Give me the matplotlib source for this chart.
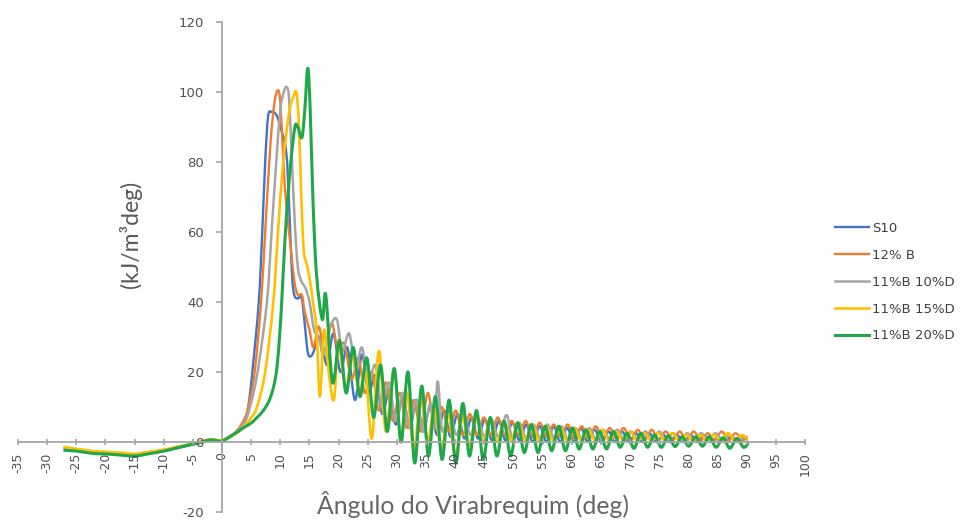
import numpy as np
import matplotlib
matplotlib.use("Agg")
import matplotlib.pyplot as plt
from matplotlib.path import Path
from matplotlib.patches import PathPatch
from matplotlib.lines import Line2D

plt.rcParams["font.family"] = ["Lato", "DejaVu Sans"]
plt.rcParams["axes.unicode_minus"] = False

# Heat release rate (kJ/m^3 deg) vs crank angle (deg)
s10_deg = [-27, -25, -22, -20, -17, -15, -13, -10, -8, -6, -4, -2, 0, 2,
           3, 4, 4.5, 5.2, 6.3, 6.9, 7.4, 7.9, 8.5, 9.3, 10.0, 11.0, 11.5, 12.0, 12.4,
           13.0, 13.4, 13.8, 14.4, 14.8, 15.5,
           16.8, 18.0, 19.1, 20.3, 21.5, 22.8, 24.0, 25.1, 26.3, 27.5, 28.7, 29.8, 31.0,
           32.2, 33.4, 34.5, 35.7, 36.9, 38.1, 39.2, 40.4, 41.6, 42.8, 43.9, 45.1, 46.3,
           47.5, 48.6, 49.8, 51.0, 52.2, 53.3, 54.5, 55.7, 56.9, 58.0, 59.2, 60.4, 61.6,
           62.7, 63.9, 65.1, 66.3, 67.4, 68.6, 69.8, 71.0, 72.1, 73.3, 74.5, 75.7, 76.8,
           78.0, 79.2, 80.4, 81.5, 82.7, 83.9, 85.1, 86.2, 87.4, 88.6, 89.5]
s10_val = [-1.8, -2.4, -3.0, -3.2, -3.6, -4.2, -3.4, -2.6, -1.8, -1.1, -0.2, 0.5, 0.5, 2.3,
           4.0, 7.0, 10, 20, 40, 60, 80, 93, 94.3, 93.5, 90, 83, 68, 48, 42,
           41, 41.5, 40, 30, 25, 25,
           30, 22, 31, 20, 27, 12, 25, 14, 19, 8, 15, 5, 13,
           4, 12, 3, 10, 2, 9, 1.5, 8, 1, 7, 1, 6.5, 0.5,
           6, 0.5, 5.5, 0.5, 5, 0, 4.5, 0, 4.5, 0, 4, 0, 4,
           0, 3.5, 0, 3, 0, 3, 0, 2.5, 0, 2.5, 0, 2, 0,
           2, 0, 2, 0, 1.8, 0, 1.5, 0, 1.5, 0, 0.8]

b12_deg = [-27, -25, -22, -20, -17, -15, -13, -10, -8, -6, -4, -2, 0, 2,
           3, 4, 4.5, 5.6, 6.7, 7.4, 8.3, 9.0, 9.6, 10.0, 10.5, 11.0, 11.7, 12.4, 13.0,
           13.7, 14.2, 15.0, 15.7,
           16.6, 17.6, 18.8, 19.8, 21.0, 22.2, 23.4, 24.5, 25.7, 26.9, 28.1, 29.3, 30.5,
           31.7, 32.9, 34.1, 35.3, 36.5, 37.7, 38.9, 40.1, 41.3, 42.5, 43.7, 44.9, 46.1,
           47.3, 48.5, 49.7, 50.9, 52.1, 53.3, 54.5, 55.7, 56.9, 58.1, 59.3, 60.5, 61.7,
           62.9, 64.1, 65.3, 66.5, 67.7, 68.9, 70.1, 71.3, 72.5, 73.7, 74.9, 76.1, 77.3,
           78.5, 79.7, 80.9, 82.1, 83.3, 84.5, 85.7, 86.9, 88.1, 89.3, 90.0]
b12_val = [-1.6, -2.2, -2.8, -3.0, -3.4, -3.8, -3.2, -2.4, -1.6, -1.0, -0.1, 0.6, 0.6, 2.4,
           4.2, 7, 10, 20, 40, 60, 85, 97, 100.5, 97, 81, 68, 57, 46, 42,
           42, 37, 32, 27,
           33, 26, 34, 27, 28, 18, 24, 14, 20, 9, 17, 6, 14,
           4, 12, 3, 14, 4, 10, 3, 9, 2, 8, 2, 7, 2,
           7, 2, 6, 2, 6, 1.5, 5.5, 1.5, 5, 1.5, 5, 1, 4.5,
           1, 4.5, 1, 4, 1, 4, 0.5, 3.5, 0.5, 3.5, 0.5, 3, 0.5,
           3, 0.5, 3, 0.5, 2.5, 0.5, 3, 0.5, 2.5, 0.5, 1.5]

b11d10_deg = [-27, -25, -22, -20, -17, -15, -13, -10, -8, -6, -4, -2, 0, 2,
              3, 4, 4.8, 6.1, 7.7, 8.5, 9.3, 10.0, 10.6, 11.1, 11.5, 12.0, 12.5, 13.0,
              13.6, 14.3, 15.0, 15.8,
              16.6, 17.4, 18.6, 19.7, 20.6, 21.8, 22.9, 24.0, 25.1, 26.3, 27.4, 28.6, 29.8,
              31.0, 32.1, 33.3, 34.5, 35.7, 36.4, 37.0, 37.8, 39.0, 40.2, 41.4, 42.6, 43.8,
              45.0, 46.2, 47.4, 48.8, 49.8, 51.0, 52.2, 53.4, 54.6, 55.8, 57.0, 58.2, 59.4,
              60.6, 61.8, 63.0, 64.2, 65.4, 66.6, 67.8, 69.0, 70.2, 71.4, 72.6, 73.8, 75.0,
              76.2, 77.4, 78.6, 79.8, 81.0, 82.2, 83.4, 84.6, 85.8, 87.0, 88.2, 89.4]
b11d10_val = [-1.5, -2.0, -2.7, -2.9, -3.3, -3.6, -3.0, -2.3, -1.5, -0.9, 0.0, 0.6, 0.5, 2.2,
              3.8, 6, 10, 20, 40, 60, 80, 95, 100, 101.4, 98, 80, 62, 50,
              46, 44, 40, 32,
              30, 25, 33, 35, 26, 31, 21, 27, 17, 22, 10, 17, 6,
              14, 4, 12, 3, 11, 4, 17.3, 3, 9, 2, 8, 2, 7,
              1.5, 6.5, 1.5, 7.7, 1, 5.5, 1, 5, 1, 5, 1, 4.5, 0.5,
              4, 0.5, 4, 0.5, 3.5, 0.5, 3.5, 0.5, 3, 0.5, 3, 0.5, 3,
              0.5, 2.5, 0.5, 2.5, 0.5, 2.5, 0.5, 2.5, 0.5, 2, 0.5, 1.5]

b11d15_deg = [-27, -25, -22, -20, -17, -15, -13, -10, -8, -6, -4, -2, 0, 2,
              3, 4, 5, 6, 7.4, 8.8, 9.6, 10.5, 11.5, 12.3, 12.8, 13.2, 13.6, 14.0,
              14.5, 15.0, 15.6, 16.2,
              16.8, 17.5, 18.3, 19.2, 20.0, 21.2, 22.4, 23.5, 24.6, 25.7, 26.9, 28.1, 29.5,
              30.7, 31.7, 32.9, 34.1, 35.3, 36.4, 37.6, 38.8, 40.0, 41.2, 42.4, 43.6, 44.8,
              46.0, 47.2, 48.4, 49.6, 50.8, 52.0, 53.2, 54.4, 55.6, 56.8, 58.0, 59.2, 60.4,
              61.6, 62.8, 64.0, 65.2, 66.4, 67.6, 68.8, 70.0, 71.2, 72.4, 73.6, 74.8, 76.0,
              77.2, 78.4, 79.6, 80.8, 82.0, 83.2, 84.4, 85.6, 86.8, 88.0, 89.2, 90.0]
b11d15_val = [-1.4, -2.0, -2.6, -2.8, -3.1, -3.4, -2.9, -2.2, -1.5, -0.8, 0.1, 0.7, 0.6, 2.0,
              3.2, 4.8, 7, 10, 20, 40, 60, 80, 94, 99, 99.5, 90, 70, 55,
              51, 47, 40, 32,
              13, 32, 20, 12, 28, 15, 25, 14, 20, 1, 26, 3, 21,
              0, 14, -2, 12, 0, 10, -2, 8, -4, 7, -1, 7, 0,
              6, 0, 6, 0.5, 5.5, 0.5, 5, 0.5, 4.5, 0.5, 4, 0.5, 4,
              0.5, 3.5, 0.5, 3.5, 0.5, 3, 0.5, 3, 0.5, 2.5, 0.5, 2.5, 0.5,
              2.5, 0.5, 2, 0.5, 2, 0.5, 2, 0.5, 2.5, 0.5, 2, 1]

b11d20_deg = [-27, -25, -22, -20, -17, -15, -13, -10, -8, -6, -4, -2, 0, 2,
              3, 4, 5, 6, 7, 8.0, 8.8, 9.4, 9.9, 10.3, 10.8, 11.3, 11.8, 12.5, 13.0, 13.7,
              14.2, 14.7, 15.1, 15.6, 16.2, 17.2, 17.8,
              18.95, 20.15, 21.3, 22.5, 23.65, 24.85, 26.0, 27.2, 28.35, 29.55, 30.7, 31.9,
              33.05, 34.25, 35.4, 36.6, 37.75, 38.95, 40.1, 41.3, 42.45, 43.65, 44.8, 46.0,
              47.15, 48.35, 49.5, 50.7, 51.85, 53.05, 54.2, 55.4, 56.55, 57.75, 58.9, 60.1,
              61.25, 62.45, 63.6, 64.8, 65.95, 67.15, 68.3, 69.5, 70.65, 71.85, 73.0, 74.2,
              75.35, 76.55, 77.7, 78.9, 80.05, 81.25, 82.4, 83.6, 84.75, 85.95, 87.1, 88.3,
              89.45, 90.2]
b11d20_val = [-2.4, -2.6, -3.3, -3.4, -3.8, -4.0, -3.5, -2.6, -1.8, -1.0, -0.3, 0.6, 0.3, 2.2,
              3.3, 4.4, 5.4, 7.0, 8.8, 11.5, 15.5, 21, 31, 42, 58, 70, 80, 90, 90, 87,
              95, 106.8, 96, 69, 48, 35, 42,
              17, 29, 14, 27, 13, 24, 7, 22, 3, 21, 0, 20,
              -6, 16, -4, 13, -5, 12, -6, 11, -4, 9, -5, 7,
              -4, 6, -4, 5.5, -3, 5, -3, 4.5, -2.5, 4.5, -2.5, 4,
              -2, 3.5, -2, 3, -2, 3, -1.5, 2.5, -1.8, 2.5, -1.5, 2,
              -1.5, 1.8, -1.3, 1.5, -1.2, 1.5, -1.2, 1.5, -1.5, 1.2, -1.8, 1.0,
              -1.5, -0.5]

series_labels = ["S10", "12% B", "11%B 10%D", "11%B 15%D", "11%B 20%D"]
series_colors = ["#4472C4", "#ED7D31", "#A5A5A5", "#FFC000", "#1FA84A"]
series_widths = [1.7, 1.7, 1.8, 1.9, 2.2]
series_data = [(s10_deg, s10_val), (b12_deg, b12_val), (b11d10_deg, b11d10_val),
               (b11d15_deg, b11d15_val), (b11d20_deg, b11d20_val)]

x_ticks = list(range(-35, 101, 5))
y_ticks = list(range(-20, 121, 20))


def smoothed_path(xs, ys):
    """Bezier path passing through every point (Catmull-Rom style smoothed line)."""
    pts = np.column_stack([np.asarray(xs, float), np.asarray(ys, float)])
    n = len(pts)
    verts = [pts[0]]
    codes = [Path.MOVETO]
    for i in range(n - 1):
        p0 = pts[i - 1] if i > 0 else pts[i]
        p1 = pts[i]
        p2 = pts[i + 1]
        p3 = pts[i + 2] if i + 2 < n else pts[i + 1]
        c1 = p1 + (p2 - p0) / 6.0
        c2 = p2 - (p3 - p1) / 6.0
        verts += [c1, c2, p2]
        codes += [Path.CURVE4] * 3
    return Path(verts, codes)


fig = plt.figure(figsize=(9.63, 5.24), dpi=100)
ax = fig.add_axes([18 / 963, 12 / 524, 787 / 963, 490 / 524])

handles = []
for (xs, ys), lab, col, lw in zip(series_data, series_labels, series_colors, series_widths):
    patch = PathPatch(smoothed_path(xs, ys), fill=False, edgecolor=col, lw=lw,
                      joinstyle="round", capstyle="round")
    ax.add_patch(patch)
    handles.append(Line2D([], [], color=col, lw=lw, label=lab))

ax.set_xlim(-35, 100)
ax.set_ylim(-20, 120)

for side in ("top", "right"):
    ax.spines[side].set_visible(False)
ax.spines["left"].set_position(("data", 0))
ax.spines["bottom"].set_position(("data", 0))
for side in ("left", "bottom"):
    ax.spines[side].set_color("#A6A6A6")
    ax.spines[side].set_linewidth(1.3)

ax.set_xticks(x_ticks)
ax.set_yticks(y_ticks)
ax.set_xticklabels([str(v) for v in x_ticks])
ax.set_yticklabels([str(v) for v in y_ticks])

ax.tick_params(axis="y", direction="out", length=4, width=1.2, color="#A6A6A6",
               labelsize=9.5, labelcolor="#505050", pad=9)
ax.tick_params(axis="x", direction="inout", length=5, width=1.2, color="#A6A6A6",
               labelsize=9, labelcolor="#505050", pad=5, labelrotation=90)
for lbl in ax.get_xticklabels() + ax.get_yticklabels():
    lbl.set_fontfamily("DejaVu Sans")
ax.patch.set_alpha(0)

fig.text(130 / 963, 1 - 234 / 524, "(kJ/m³deg)", rotation=90, ha="center", va="center",
         fontsize=16.5, color="#595959")
fig.text(473 / 963, 1 - 504 / 524, "Ângulo do Virabrequim (deg)", ha="center", va="center",
         fontsize=17.8, color="#666666")

fig.legend(handles=handles, loc="upper left", bbox_to_anchor=(835 / 963, 1 - 222 / 524),
           frameon=False, handlelength=2.6, handletextpad=0.2,
           labelspacing=1.05, borderpad=0, borderaxespad=0, labelcolor="#404040",
           prop={"family": "DejaVu Sans", "size": 9.5})

fig.savefig("out.png", dpi=100)
